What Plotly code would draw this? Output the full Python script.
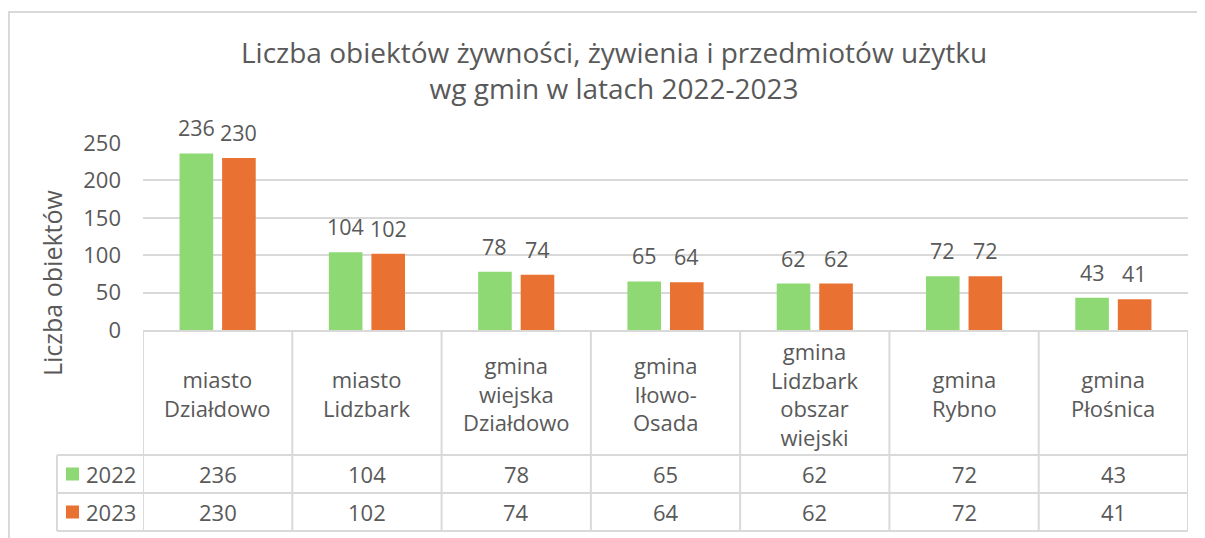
import plotly.graph_objects as go

categories = ["miasto<br>Działdowo", "miasto<br>Lidzbark", "gmina<br>wiejska<br>Działdowo",
              "gmina<br>Iłowo-<br>Osada", "gmina<br>Lidzbark<br>obszar<br>wiejski",
              "gmina<br>Rybno", "gmina<br>Płośnica"]
series_names = ["2022", "2023"]
values_2022 = [236, 104, 78, 65, 62, 72, 43]
values_2023 = [230, 102, 74, 64, 62, 72, 41]
y_ticks = [0, 50, 100, 150, 200, 250]
title_text = "Liczba obiektów żywności, żywienia i przedmiotów użytku<br>wg gmin w latach 2022-2023"
y_title = "Liczba obiektów"

W, H = 1205, 538
OFF = 8  # page body margin
FONT = "Open Sans"
TXT = "#595959"
GRID = "#d9d9d9"
colors = ["#8ED973", "#E97132"]
series = [values_2022, values_2023]
FS = 22

# screen pixel helpers -> paper coords
def px(x):
    return (x - OFF) / W
def py(y):
    return 1 - (y - OFF) / H

X0, X1 = 143, 1188
Y_TOP, Y_ZERO = 143, 330
ROW_CAT_BOTTOM, ROW1_BOTTOM, ROW2_BOTTOM = 455, 493, 531
LEG_X = 57
BARGAP = 0.43
BARGROUPGAP = 0.21

n = len(categories)
idx = list(range(n))
fig = go.Figure()
for s, (name, vals) in enumerate(zip(series_names, series)):
    fig.add_trace(go.Bar(x=idx, y=vals, name=name, marker_color=colors[s],
                         marker_line_width=0, showlegend=False))

fig.update_layout(
    width=W, height=H, margin=dict(l=0, r=0, t=0, b=0, autoexpand=False),
    paper_bgcolor="white", plot_bgcolor="white",
    barmode="group", bargap=BARGAP, bargroupgap=BARGROUPGAP,
    font=dict(family=FONT, color=TXT, size=FS),
    xaxis=dict(domain=[px(X0), px(X1)], range=[-0.5, n - 0.5], showticklabels=False,
               showgrid=False, zeroline=False, ticks="", automargin=False),
    yaxis=dict(domain=[py(Y_ZERO), py(Y_TOP)], range=[0, 250], tickvals=y_ticks,
               showgrid=True, gridcolor=GRID, gridwidth=2, zeroline=False, ticks="",
               ticklabelstandoff=21, tickfont=dict(size=FS, color=TXT), automargin=False),
)

ann = []
shapes = []
# title
ann.append(dict(xref="paper", yref="paper", x=px(614), y=py(70), xanchor="center", yanchor="middle",
                text=title_text, showarrow=False, font=dict(size=28, color=TXT)))
# y title
ann.append(dict(xref="paper", yref="paper", x=px(52), y=py(283), textangle=-90,
                text=y_title, showarrow=False, font=dict(size=25, color=TXT),
                xanchor="center", yanchor="middle"))
# data labels above bars
half = (1 - BARGAP) / 4
for s, vals in enumerate(series):
    off = -half if s == 0 else half
    for i, v in enumerate(vals):
        ann.append(dict(xref="x", yref="y", x=i + off, y=v, yanchor="bottom", yshift=9,
                        text=str(v), showarrow=False, font=dict(size=21.5, color=TXT)))
# table: category row
for i, c in enumerate(categories):
    ann.append(dict(xref="x", yref="paper", x=i, y=py((Y_ZERO + ROW_CAT_BOTTOM) / 2 + 1),
                    text=c, showarrow=False, yanchor="middle", font=dict(size=FS, color=TXT)))
# value rows
row_bounds = [(ROW_CAT_BOTTOM, ROW1_BOTTOM), (ROW1_BOTTOM, ROW2_BOTTOM)]
for s, vals in enumerate(series):
    yc = (row_bounds[s][0] + row_bounds[s][1]) / 2
    for i, v in enumerate(vals):
        ann.append(dict(xref="x", yref="paper", x=i, y=py(yc), text=str(v), showarrow=False,
                        yanchor="middle", font=dict(size=FS, color=TXT)))
    # legend key
    shapes.append(dict(type="rect", xref="paper", yref="paper", x0=px(66), x1=px(79),
                       y0=py(yc + 6.5), y1=py(yc - 6.5), fillcolor=colors[s], line_width=0))
    ann.append(dict(xref="paper", yref="paper", x=px(84), y=py(yc), xanchor="left",
                    yanchor="middle", text=series_names[s], showarrow=False,
                    font=dict(size=FS, color=TXT)))

LW = 2
# horizontal table lines
shapes.append(dict(type="line", xref="paper", yref="paper", x0=px(X0), x1=px(X1),
                   y0=py(Y_ZERO + 1), y1=py(Y_ZERO + 1), line=dict(color=GRID, width=LW)))
for yb in [ROW_CAT_BOTTOM, ROW1_BOTTOM, ROW2_BOTTOM]:
    shapes.append(dict(type="line", xref="paper", yref="paper", x0=px(LEG_X), x1=px(X1),
                       y0=py(yb), y1=py(yb), line=dict(color=GRID, width=LW)))
# vertical table lines
for k in range(n + 1):
    shapes.append(dict(type="line", xref="x", yref="paper", x0=k - 0.5, x1=k - 0.5,
                       y0=py(Y_ZERO + 1), y1=py(ROW2_BOTTOM), line=dict(color=GRID, width=LW)))
shapes.append(dict(type="line", xref="paper", yref="paper", x0=px(LEG_X), x1=px(LEG_X),
                   y0=py(ROW_CAT_BOTTOM), y1=py(ROW2_BOTTOM), line=dict(color=GRID, width=LW)))
# outer chart border
shapes.append(dict(type="rect", xref="paper", yref="paper", x0=px(9), x1=px(W + 20),
                   y0=py(H + 20), y1=py(12), line=dict(color=GRID, width=2),
                   fillcolor="rgba(0,0,0,0)", layer="below"))

fig.update_layout(annotations=ann, shapes=shapes)
fig.write_html("out.html")
